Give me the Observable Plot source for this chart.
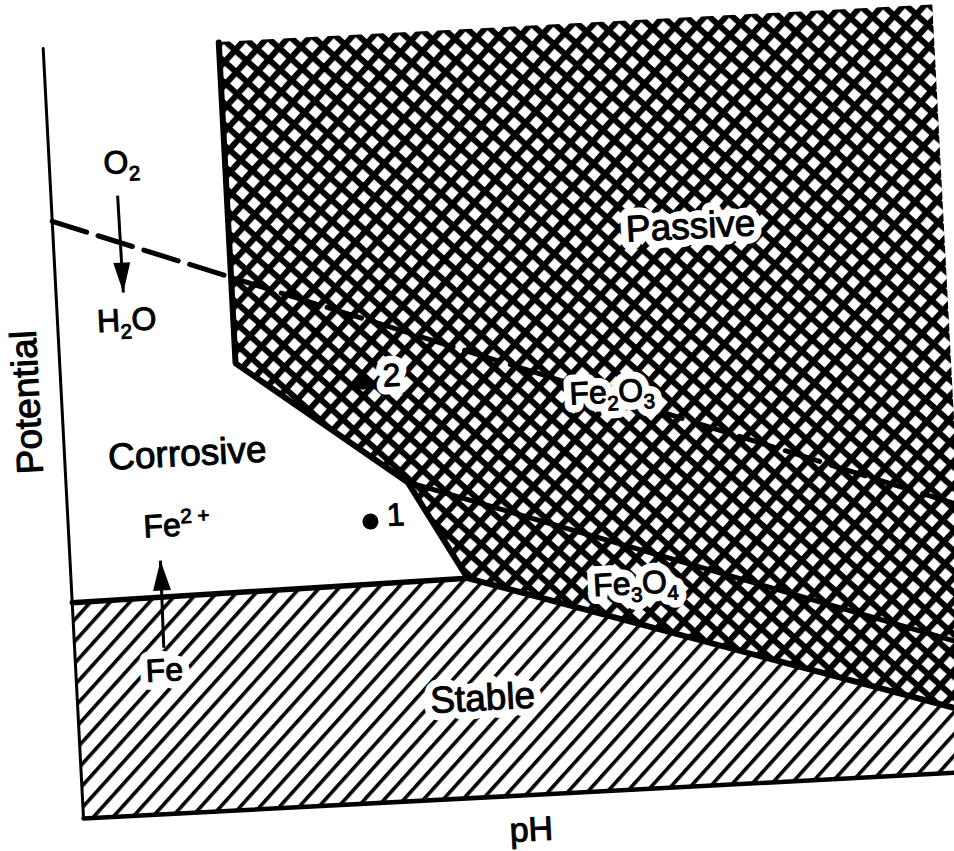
<!DOCTYPE html>
<html><head><meta charset="utf-8">
<script src="https://cdn.jsdelivr.net/npm/d3@7"></script>
<script src="https://cdn.jsdelivr.net/npm/@observablehq/plot@0.6"></script>
<style>
html,body{margin:0;padding:0;background:#fff;overflow:hidden;width:954px;height:851px;}
#chart svg{max-width:none;overflow:visible;transform:rotate(-3deg);transform-origin:83px 818px;background:transparent;}
</style></head><body><div id="chart"></div>
<script>
// ---- Data (pH on x, potential in arbitrary units on y) ----
const passiveX     = [2.82, 5.48, 6.36, 14.3];
const passiveLower = [7.17, 5.12, 3.53, 0.96];
const passiveTop   = 12.33;

const stableX      = [0, 6.36, 14.3];
const stableUpper  = [3.47, 3.53, 0.96];

const passiveEdge  = [[2.82, 12.33], [2.82, 7.17], [5.48, 5.12], [6.36, 3.53], [14.3, 0.96]];
const ironLine     = [[0, 3.47], [6.36, 3.53]];          // Fe / Fe2+
const oxideLine    = [[5.48, 5.12], [14.3, 2.05]];       // Fe2O3 / Fe3O4
const waterLine    = [[0, 9.60], [14.3, 4.29]];          // O2 / H2O (dashed)
const xAxisLine    = [[0, 0], [14.3, 0]];
const yAxisLine    = [[0, 0], [0, 12.38]];

const points       = [{id: "1", x: 4.85, y: 4.52}, {id: "2", x: 4.84, y: 6.77}];

const arrowsDown   = [{x1: 1.07, y1: 9.96, x2: 1.08, y2: 8.40}];   // O2 -> H2O
const arrowsUp     = [{x1: 1.43, y1: 2.67, x2: 1.45, y2: 4.07}];   // Fe -> Fe2+

const plainLabels  = [
  {text: "O₂",        x: 1.16, y: 10.48, size: 32},
  {text: "H₂O",       x: 1.11, y: 7.95,  size: 32},
  {text: "Corrosive", x: 1.97, y: 5.76,  size: 37},
  {text: "Fe²⁺",      x: 1.74, y: 4.62,  size: 32},
  {text: "1",         x: 5.26, y: 4.60,  size: 32},
  {text: "pH",        x: 7.17, y: -0.56, size: 34}
];
const haloLabels   = [
  {text: "Passive",   x: 10.23, y: 8.98, size: 37},
  {text: "Fe₂O₃",     x: 8.83,  y: 6.39, size: 32},
  {text: "Fe₃O₄",     x: 9.05,  y: 3.30, size: 32},
  {text: "2",         x: 5.31,  y: 6.84, size: 32},
  {text: "Fe",        x: 1.42,  y: 2.30, size: 32},
  {text: "Stable",    x: 6.50,  y: 1.59, size: 37}
];
const axisLabelY   = [{text: "Potential", x: -0.55, y: 6.72}];

// ---- Derived tables ----
const passiveRegion = passiveX.map((x, i) => ({x, lower: passiveLower[i], upper: passiveTop}));
const stableRegion  = stableX.map((x, i) => ({x, lower: 0, upper: stableUpper[i]}));

const fontFamily = "Liberation Sans, Arial, Helvetica, sans-serif";
const NS = "http://www.w3.org/2000/svg";

function defsMark() {
  const defs = document.createElementNS(NS, "defs");
  function pattern(id, size, angle, thick, cross) {
    const p = document.createElementNS(NS, "pattern");
    p.setAttribute("id", id);
    p.setAttribute("patternUnits", "userSpaceOnUse");
    p.setAttribute("width", size);
    p.setAttribute("height", size);
    p.setAttribute("patternTransform", `rotate(${angle})`);
    const bg = document.createElementNS(NS, "rect");
    bg.setAttribute("width", size); bg.setAttribute("height", size); bg.setAttribute("fill", "white");
    p.appendChild(bg);
    const h = document.createElementNS(NS, "rect");
    h.setAttribute("width", size); h.setAttribute("height", thick); h.setAttribute("fill", "black");
    p.appendChild(h);
    if (cross) {
      const v = document.createElementNS(NS, "rect");
      v.setAttribute("width", thick); v.setAttribute("height", size); v.setAttribute("fill", "black");
      p.appendChild(v);
    }
    defs.appendChild(p);
  }
  pattern("crosshatch", 15.56, 45, 6, true);
  pattern("diaghatch", 14.6, -45, 3.6, false);
  return defs;
}

const headDown = {draw(c) { c.moveTo(0, 0); c.lineTo(-8.5, -30); c.lineTo(8.5, -30); c.closePath(); }};
const headUp   = {draw(c) { c.moveTo(0, 0); c.lineTo(-9, 30); c.lineTo(9, 30); c.closePath(); }};

const textBase = {x: "x", y: "y", text: "text", fontSize: "size", fontFamily, textAnchor: "middle", lineAnchor: "middle"};

const chart = Plot.plot({
  width: 954,
  height: 851,
  x: {domain: [0, 14], range: [83, 955], axis: null},
  y: {domain: [0, 12.38], range: [818, 47], axis: null},
  marks: [
    defsMark,
    Plot.areaY(passiveRegion, {x: "x", y1: "lower", y2: "upper", fill: "url(#crosshatch)"}),
    Plot.areaY(stableRegion, {x: "x", y1: "lower", y2: "upper", fill: "url(#diaghatch)"}),
    Plot.line(yAxisLine, {x: d => d[0], y: d => d[1], stroke: "black", strokeWidth: 3}),
    Plot.line(xAxisLine, {x: d => d[0], y: d => d[1], stroke: "black", strokeWidth: 4.5}),
    Plot.line(ironLine, {x: d => d[0], y: d => d[1], stroke: "black", strokeWidth: 5.5}),
    Plot.line(oxideLine, {x: d => d[0], y: d => d[1], stroke: "black", strokeWidth: 5}),
    Plot.line(passiveEdge, {x: d => d[0], y: d => d[1], stroke: "black", strokeWidth: 6, strokeLinejoin: "miter"}),
    Plot.line(waterLine, {x: d => d[0], y: d => d[1], stroke: "black", strokeWidth: 5, strokeDasharray: "36,12"}),
    Plot.dot(points, {x: "x", y: "y", r: 8, fill: "black", stroke: "none"}),
    Plot.link(arrowsDown, {x1: "x1", y1: "y1", x2: "x2", y2: "y2", stroke: "black", strokeWidth: 3}),
    Plot.link(arrowsUp, {x1: "x1", y1: "y1", x2: "x2", y2: "y2", stroke: "black", strokeWidth: 3}),
    Plot.dot(arrowsDown, {x: "x2", y: "y2", symbol: headDown, fill: "black", stroke: "none"}),
    Plot.dot(arrowsUp, {x: "x2", y: "y2", symbol: headUp, fill: "black", stroke: "none"}),
    // white halo behind labels that sit on hatching
    Plot.text(haloLabels, {...textBase, fill: "white", stroke: "white", strokeWidth: 16, strokeLinejoin: "round"}),
    Plot.text(haloLabels, {...textBase, fill: "black", stroke: "black", strokeWidth: 1}),
    Plot.text(plainLabels, {...textBase, fill: "black", stroke: "black", strokeWidth: 1}),
    Plot.text(axisLabelY, {x: "x", y: "y", text: "text", fontSize: 37, fontFamily, rotate: -90, textAnchor: "middle", lineAnchor: "middle", fill: "black", stroke: "black", strokeWidth: 1})
  ]
});
document.getElementById("chart").appendChild(chart);

// turn Unicode sub/superscripts into tspans
(function applyScripts(svg) {
  const sub = "₀₁₂₃₄₅₆₇₈₉", sup = "⁰¹²³⁴⁵⁶⁷⁸⁹⁺⁻", plain = "0123456789";
  const supPlain = "0123456789+-";
  svg.querySelectorAll("text").forEach(t => {
    const s = t.textContent;
    const chars = [...s];
    if (!chars.some(c => sub.includes(c) || sup.includes(c))) return;
    const fs = parseFloat(getComputedStyle(t).fontSize) || 32;
    const groups = [];
    for (const c of chars) {
      let kind = 0, ch = c;
      if (sub.includes(c)) { kind = 1; ch = plain[sub.indexOf(c)]; }
      else if (sup.includes(c)) { kind = 2; ch = supPlain[sup.indexOf(c)]; }
      if (groups.length && groups[groups.length - 1].kind === kind) groups[groups.length - 1].text += ch;
      else groups.push({kind, text: ch});
    }
    t.textContent = "";
    let cur = 0;
    for (const g of groups) {
      const ts = document.createElementNS(NS, "tspan");
      const target = g.kind === 1 ? 0.24 * fs : g.kind === 2 ? -0.38 * fs : 0;
      if (target !== cur) ts.setAttribute("dy", (target - cur).toFixed(2));
      cur = target;
      if (g.kind) ts.setAttribute("font-size", (0.64 * fs).toFixed(1));
      ts.textContent = g.kind === 2 ? g.text.split("").join(" ") : g.text;
      t.appendChild(ts);
    }
  });
})(chart);
</script></body></html>
